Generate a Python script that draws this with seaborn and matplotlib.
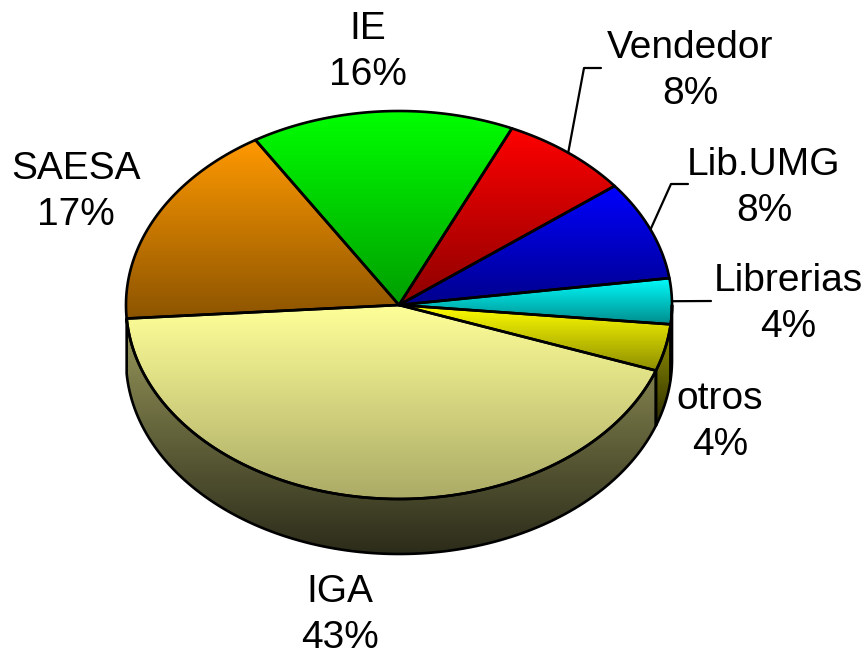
import numpy as np
import pandas as pd
import seaborn as sns
import matplotlib.pyplot as plt
from matplotlib.colors import LinearSegmentedColormap, to_rgb
from matplotlib.patches import Polygon

# Values, counter clockwise from the left
categories = ['IGA', 'otros', 'Librerias', 'Lib.UMG', 'Vendedor', 'IE', 'SAESA']
shares = [43.4, 3.9, 3.8, 8.3, 7.7, 15.6, 17.3]
percent_labels = ['43%', '4%', '4%', '8%', '8%', '16%', '17%']
colours = ['#FFFF99', '#FFFF00', '#00FFFF', '#0000FF', '#FF0000', '#00FF00', '#FF9900']
shade_ends = [0.67, 0.55, 0.55, 0.55, 0.55, 0.62, 0.55]
label_x = [340, 720, 788, 764, 690, 368, 76]
label_y = [615, 422, 304, 188, 71, 52, 192]

# pie geometry in pixels
cx, cy = 399, 305
rx, ry = 273, 194
depth = 55
start_angle = 184.0
side_light = 0.6
side_dark = 0.17

sns.set_theme(style='white')
plt.rcParams['font.family'] = ['Liberation Sans', 'DejaVu Sans']

data = pd.DataFrame({'category': categories, 'share': shares, 'shade': shade_ends,
                     'percent': percent_labels, 'x': label_x, 'y': label_y})
data['end'] = start_angle + data['share'].cumsum() * 3.6
data['start'] = data['end'] - data['share'] * 3.6
data['colour'] = sns.color_palette(colours)

fig = plt.figure(figsize=(8.64, 6.56), dpi=100)
ax = fig.add_axes([0, 0, 1, 1])


def rim(angles, drop=0):
    rad = np.radians(angles)
    return np.column_stack([cx + rx * np.cos(rad), cy - ry * np.sin(rad) + drop])


def fill_gradient(points, colour, light, dark):
    base = np.array(to_rgb(colour))
    cmap = LinearSegmentedColormap.from_list('g', [base * light, base * dark])
    x0, y0 = points.min(axis=0)
    x1, y1 = points.max(axis=0)
    im = ax.imshow(np.linspace(0, 1, 256)[:, None], cmap=cmap, aspect='auto',
                   extent=(x0, x1, y1, y0), interpolation='bilinear', zorder=2)
    patch = Polygon(points, closed=True, facecolor='none', edgecolor='black',
                    linewidth=1.9, joinstyle='round', zorder=3)
    ax.add_patch(patch)
    im.set_clip_path(patch)


# outer wall, only the front half of the ellipse shows
for _, row in data.iterrows():
    a = max(row['start'], 180.0)
    b = min(row['end'], 360.0)
    if b <= a:
        continue
    arc = np.linspace(a, b, 120)
    wall = np.vstack([rim(arc), rim(arc[::-1], depth)])
    fill_gradient(wall, row['colour'], side_light, side_dark)

# top face
for _, row in data.iterrows():
    arc = np.linspace(row['start'], row['end'], 200)
    face = np.vstack([[cx, cy], rim(arc)])
    fill_gradient(face, row['colour'], 1.0, row['shade'])

# leader lines
for name, elbow in [('Vendedor', [(584, 68), (601, 68)]),
                    ('Lib.UMG', [(671, 184), (688, 184)]),
                    ('Librerias', [(711, 301)])]:
    row = data[data['category'] == name].iloc[0]
    begin = rim(np.array([(row['start'] + row['end']) / 2]))
    line = np.vstack([begin, elbow])
    ax.plot(line[:, 0], line[:, 1], color='black', lw=1.6, zorder=1)

for _, row in data.iterrows():
    ax.text(row['x'], row['y'], f"{row['category']}\n{row['percent']}",
            ha='center', va='center', fontsize=28, color='black', linespacing=1.34)

ax.set_xlim(0, 864)
ax.set_ylim(656, 0)
ax.axis('off')
fig.savefig('out.png', dpi=100, facecolor='white')
